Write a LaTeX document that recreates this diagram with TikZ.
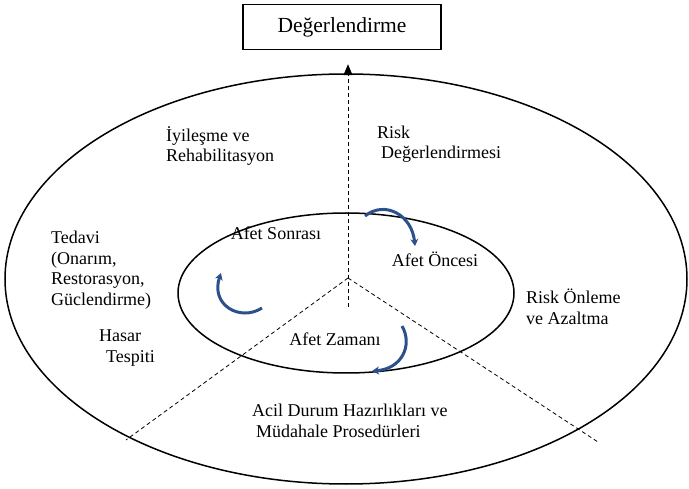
\documentclass[tikz,border=0pt]{standalone}
\usepackage{fontspec}
\setmainfont{Liberation Serif}
\usetikzlibrary{arrows.meta,calc}
\definecolor{cycleblue}{RGB}{44,80,140}

\begin{document}
\begin{tikzpicture}[x=1pt,y=-1pt,
	label/.style={inner sep=0pt,align=left,anchor=west,font=\fontsize{18}{20.5}\selectfont},
	phase/.style={inner sep=0pt,font=\fontsize{18}{20.5}\selectfont},
	ring/.style={line width=1.5pt},
	spoke/.style={line width=0.8pt,dash pattern=on 4pt off 3pt},
	cyclearrow/.style={line width=3pt,cycleblue,-{Stealth[length=7pt,width=8pt]}}]
	\useasboundingbox (0,0) rectangle (689,489);
	\node[draw,line width=1.5pt,minimum width=198pt,minimum height=45pt,font=\fontsize{21.5}{24}\selectfont] (eval) at (342,27) {Değerlendirme};
	\draw[ring] (346,279) ellipse [x radius=341,y radius=205];
	\draw[ring] (346,293) ellipse [x radius=168,y radius=80];
	\coordinate (hub) at (348,278);
	\coordinate (vbot) at (348,307);
	\coordinate (lend) at (126,440);
	\coordinate (rend) at (598,442);
	\draw[spoke,-{Triangle[length=11pt,width=9pt]},shorten >=14pt] (vbot) -- (eval.south -| vbot);
	\draw[spoke] (hub) -- (lend);
	\draw[spoke] (hub) -- (rend);
	\node[label] (iyilesme) at (166,146) {İyileşme ve\\Rehabilitasyon};
	\node[label] (riskdeg) at (377,144) {Risk\\\hspace*{4pt}Değerlendirmesi};
	\node[label] (tedavi) at (51,270) {Tedavi\\(Onarım,\\Restorasyon,\\Güclendirme)};
	\node[label] (hasar) at (99,348) {Hasar\\\hspace*{7pt}Tespiti};
	\node[label] (riskonleme) at (526,307) {Risk Önleme\\ve Azaltma};
	\node[label] (acil) at (252,421) {Acil Durum Hazırlıkları ve\\\hspace*{4pt}Müdahale Prosedürleri};
	\node[phase] (sonrasi) at (276,233) {Afet Sonrası};
	\node[phase] (oncesi) at (435,259) {Afet Öncesi};
	\node[phase] (zamani) at (335,339) {Afet Zamanı};
	\draw[cyclearrow] (365,216) .. controls (385,200) and (412,215) .. (415,246);
	\draw[cyclearrow] (262,308) .. controls (240,322) and (210,305) .. (221,273);
	\draw[cyclearrow] (402,326) .. controls (413,345) and (402,369) .. (372,371);
\end{tikzpicture}
\end{document}
